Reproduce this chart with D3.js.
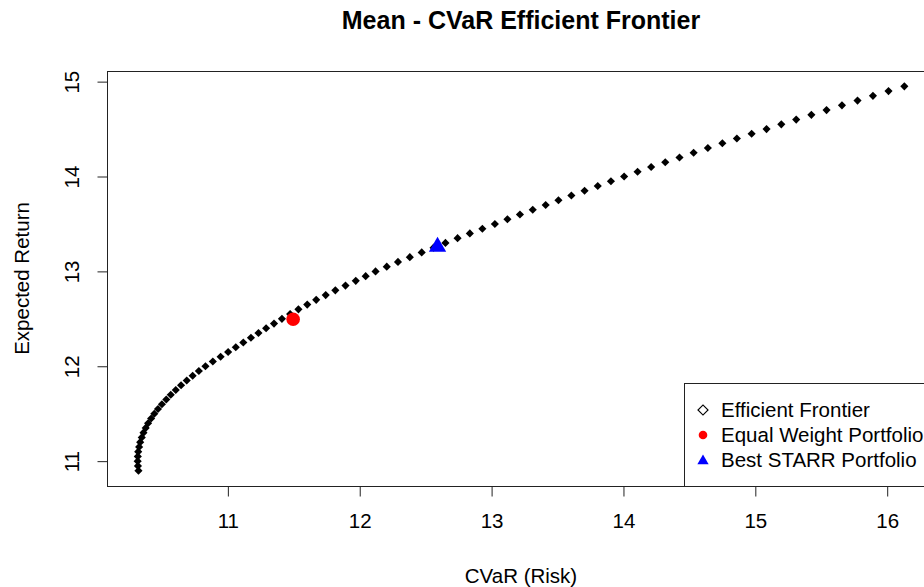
<!DOCTYPE html>
<html>
<head>
<meta charset="utf-8">
<style>
body { margin: 0; background: #fff; }
svg { display: block; }
text { font-family: "Liberation Sans", Arial, sans-serif; fill: #000; }
</style>
</head>
<body></body>
<script src="https://d3js.org/d3.v7.min.js"></script>
<script>

// efficient frontier
var frontierReturn = [10.90, 10.95, 11.00, 11.05, 11.10, 11.15, 11.20, 11.25, 11.30, 11.35,
	11.40, 11.45, 11.50, 11.55, 11.60, 11.65, 11.70, 11.75, 11.80, 11.85,
	11.90, 11.95, 12.00, 12.05, 12.10, 12.15, 12.20, 12.25, 12.30, 12.35,
	12.40, 12.45, 12.50, 12.55, 12.60, 12.65, 12.70, 12.75, 12.80, 12.85,
	12.90, 12.95, 13.00, 13.05, 13.10, 13.15, 13.20, 13.25, 13.30, 13.35,
	13.40, 13.45, 13.50, 13.55, 13.60, 13.65, 13.70, 13.75, 13.80, 13.85,
	13.90, 13.95, 14.00, 14.05, 14.10, 14.15, 14.20, 14.25, 14.30, 14.35,
	14.40, 14.45, 14.50, 14.55, 14.60, 14.65, 14.70, 14.75, 14.80, 14.85,
	14.90, 14.95];

var frontierRisk = [10.322, 10.318, 10.316, 10.317, 10.320, 10.327, 10.335, 10.347, 10.360, 10.377,
	10.395, 10.418, 10.442, 10.470, 10.500, 10.533, 10.567, 10.605, 10.645, 10.688,
	10.733, 10.780, 10.830, 10.886, 10.945, 11.002, 11.060, 11.117, 11.175, 11.232,
	11.290, 11.350, 11.410, 11.472, 11.535, 11.602, 11.670, 11.742, 11.815, 11.892,
	11.970, 12.045, 12.120, 12.205, 12.290, 12.380, 12.470, 12.560, 12.650, 12.742,
	12.835, 12.930, 13.025, 13.120, 13.215, 13.312, 13.410, 13.507, 13.605, 13.705,
	13.805, 13.905, 14.005, 14.107, 14.210, 14.317, 14.425, 14.532, 14.640, 14.750,
	14.860, 14.972, 15.085, 15.197, 15.310, 15.425, 15.540, 15.657, 15.775, 15.892,
	16.010, 16.130];

var equalWeight = { risk: 11.495, ret: 12.495 };
var bestStarr = { risk: 12.59, ret: 13.27 };

var xTicks = [11, 12, 13, 14, 15, 16];
var yTicks = [11, 12, 13, 14, 15];

var legendLabels = ["Efficient Frontier", "Equal Weight Portfolio", "Best STARR Portfolio"];

var W = 924, H = 587;
var margin = { top: 71, left: 107, bottom: 101 },
	plotRight = 935;
var fs = 20.5;

// R style: data range padded by 4%
var xr = d3.extent(frontierRisk), yr = d3.extent(frontierReturn);
var xp = (xr[1] - xr[0]) * 0.04, yp = (yr[1] - yr[0]) * 0.04;

var x = d3.scaleLinear()
	.domain([xr[0] - xp, xr[1] + xp])
	.range([margin.left, plotRight]);

var y = d3.scaleLinear()
	.domain([yr[0] - yp, yr[1] + yp])
	.range([H - margin.bottom, margin.top]);

var svg = d3.select("body").append("svg")
	.attr("width", W)
	.attr("height", H);

var pts = frontierRisk.map((r, i) => ({ risk: r, ret: frontierReturn[i] }));

var diamond = d3.symbol().type(d3.symbolSquare).size(33);

svg.append("g").selectAll("path")
	.data(pts)
  .enter().append("path")
	.attr("d", diamond)
	.attr("transform", d => "translate(" + x(d.risk) + "," + y(d.ret) + ") rotate(45)")
	.attr("fill", "#000");

svg.append("circle")
	.attr("cx", x(equalWeight.risk))
	.attr("cy", y(equalWeight.ret))
	.attr("r", 6.8)
	.attr("fill", "#ff0000");

svg.append("path")
	.attr("d", d3.symbol().type(d3.symbolTriangle).size(130))
	.attr("transform", "translate(" + x(bestStarr.risk) + "," + (y(bestStarr.ret) + 1) + ")")
	.attr("fill", "#0000ff");

// box
var y0 = H - margin.bottom;
svg.append("rect")
	.attr("x", margin.left + 0.5)
	.attr("y", margin.top + 0.5)
	.attr("width", plotRight - margin.left)
	.attr("height", y0 - margin.top)
	.attr("fill", "none")
	.attr("stroke", "#222")
	.attr("stroke-width", 1);

// axes
var xAxis = svg.append("g")
	.attr("transform", "translate(0," + (y0 + 0.5) + ")")
	.call(d3.axisBottom(x).tickValues(xTicks).tickSize(10).tickPadding(17).tickFormat(d3.format("d")));
xAxis.select(".domain").remove();

var yAxis = svg.append("g")
	.attr("transform", "translate(" + (margin.left + 0.5) + ",0)")
	.call(d3.axisLeft(y).tickValues(yTicks).tickSize(10).tickFormat(d3.format("d")));
yAxis.select(".domain").remove();
yAxis.selectAll(".tick text")
	.attr("x", null).attr("dy", null)
	.attr("text-anchor", "middle")
	.attr("transform", "translate(-36,0) rotate(-90)")
	.attr("dy", "0.35em");

svg.selectAll(".tick line").attr("stroke", "#222");
svg.selectAll(".tick text")
	.attr("font-size", fs)
	.attr("font-family", "Liberation Sans, Arial, sans-serif")
	.attr("fill", "#000");

var cx = (margin.left + plotRight) / 2;

svg.append("text")
	.attr("x", cx)
	.attr("y", 29)
	.attr("text-anchor", "middle")
	.attr("font-size", 25)
	.attr("font-weight", "bold")
	.text("Mean - CVaR Efficient Frontier");

svg.append("text")
	.attr("x", cx)
	.attr("y", 583)
	.attr("text-anchor", "middle")
	.attr("font-size", fs)
	.text("CVaR (Risk)");

svg.append("text")
	.attr("transform", "translate(29," + ((margin.top + y0) / 2) + ") rotate(-90)")
	.attr("text-anchor", "middle")
	.attr("font-size", fs)
	.text("Expected Return");

// legend, bottom right
var lg = svg.append("g");
lg.append("rect")
	.attr("x", 684.5)
	.attr("y", 383.5)
	.attr("width", plotRight - 684)
	.attr("height", y0 - 383)
	.attr("fill", "#fff")
	.attr("stroke", "#222");

var rows = lg.selectAll("g.row")
	.data(legendLabels)
  .enter().append("g")
	.attr("class", "row")
	.attr("transform", (d, i) => "translate(703," + (410 + i * 25) + ")");

rows.append("text")
	.attr("x", 18)
	.attr("dy", "0.35em")
	.attr("font-size", fs)
	.text(d => d);

rows.filter((d, i) => i == 0).append("path")
	.attr("d", d3.symbol().type(d3.symbolSquare).size(50))
	.attr("transform", "rotate(45)")
	.attr("fill", "none")
	.attr("stroke", "#000")
	.attr("stroke-width", 1.2);

rows.filter((d, i) => i == 1).append("circle")
	.attr("r", 4.3)
	.attr("fill", "#ff0000");

rows.filter((d, i) => i == 2).append("path")
	.attr("d", d3.symbol().type(d3.symbolTriangle).size(55))
	.attr("transform", "translate(0,1)")
	.attr("fill", "#0000ff");

</script>
</html>
